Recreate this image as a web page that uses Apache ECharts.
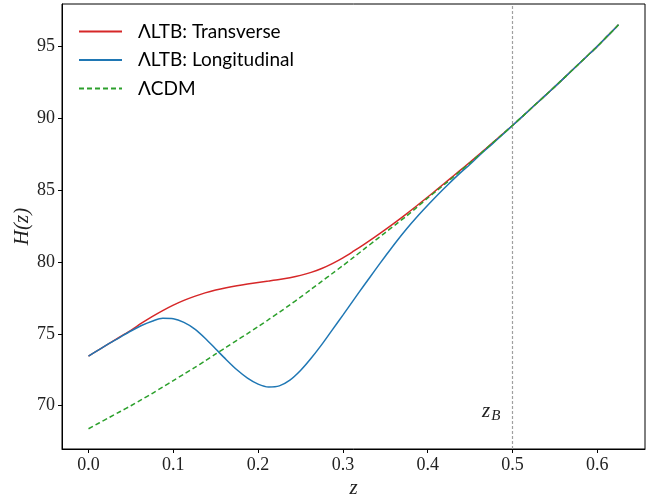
<!DOCTYPE html>
<html>
<head>
<meta charset="utf-8">
<script src="https://cdn.jsdelivr.net/npm/echarts@6/dist/echarts.min.js"></script>
<style>
  html, body { margin: 0; padding: 0; background: #fff; }
  #chart { width: 659px; height: 504px; }
</style>
</head>
<body>
<div id="chart"></div>
<script>
// redshift samples
const zValues = [0, 0.0125, 0.025, 0.0375, 0.05, 0.0625, 0.075, 0.0875, 0.1, 0.1125, 0.125, 0.1375,
  0.15, 0.1625, 0.175, 0.1875, 0.2, 0.2125, 0.225, 0.2375, 0.25, 0.2625, 0.275, 0.2875,
  0.3, 0.3125, 0.325, 0.3375, 0.35, 0.3625, 0.375, 0.3875, 0.4, 0.4125, 0.425, 0.4375,
  0.45, 0.4625, 0.475, 0.4875, 0.5, 0.5125, 0.525, 0.5375, 0.55, 0.5625, 0.575, 0.5875,
  0.6, 0.6125, 0.625];

// H(z)
const transverse = [73.45, 73.9, 74.35, 74.8, 75.25, 75.74, 76.2, 76.62, 77.0, 77.33, 77.61, 77.85,
  78.05, 78.215, 78.355, 78.475, 78.58, 78.68, 78.785, 78.91, 79.07, 79.28, 79.55, 79.89,
  80.29, 80.75, 81.23, 81.73, 82.25, 82.79, 83.35, 83.93, 84.52, 85.12, 85.73, 86.34,
  86.95, 87.58, 88.22, 88.86, 89.5, 90.17, 90.85, 91.52, 92.2, 92.9, 93.6, 94.3,
  95.0, 95.75, 96.5];
const longitudinal = [73.45, 73.9, 74.35, 74.78, 75.2, 75.58, 75.88, 76.08, 76.05, 75.8, 75.35, 74.7,
  73.95, 73.2, 72.5, 71.92, 71.5, 71.3, 71.38, 71.78, 72.45, 73.3, 74.25, 75.28,
  76.3, 77.35, 78.38, 79.4, 80.4, 81.38, 82.3, 83.15, 83.95, 84.72, 85.45, 86.15,
  86.8, 87.5, 88.15, 88.82, 89.5, 90.17, 90.85, 91.52, 92.2, 92.9, 93.6, 94.3,
  95.0, 95.75, 96.5];
const lcdm = [68.4, 68.8, 69.2, 69.6, 70.0, 70.42, 70.85, 71.3, 71.75, 72.2, 72.65, 73.12,
  73.6, 74.07, 74.55, 75.02, 75.5, 76.0, 76.5, 77.02, 77.55, 78.1, 78.65, 79.2,
  79.75, 80.32, 80.9, 81.47, 82.05, 82.62, 83.2, 83.82, 84.45, 85.05, 85.65, 86.28,
  86.9, 87.55, 88.2, 88.85, 89.5, 90.17, 90.85, 91.52, 92.2, 92.9, 93.6, 94.3,
  95.0, 95.75, 96.5];

const xTicks = [0, 0.1, 0.2, 0.3, 0.4, 0.5, 0.6];
const yTicks = [70, 75, 80, 85, 90, 95];
const zB = 0.5;

const pairs = (ys) => zValues.map((z, i) => [z, ys[i]]);

const chart = echarts.init(document.getElementById('chart'));

const tickFont = { fontFamily: 'Liberation Serif', fontSize: 18, color: '#222' };

chart.setOption({
  animation: false,
  backgroundColor: '#fff',
  grid: {
    left: 62, right: 14, top: 4, bottom: 48,
    show: true, borderColor: '#000', borderWidth: 1, backgroundColor: 'transparent'
  },
  legend: {
    orient: 'vertical',
    left: 73, top: 17,
    itemWidth: 43, itemHeight: 14, itemGap: 9.5,
    itemStyle: { opacity: 0 },
    textStyle: { fontFamily: 'Lato', fontSize: 19, color: '#000', padding: [0, 0, 0, 11] },
    data: ['ΛLTB: Transverse', 'ΛLTB: Longitudinal', 'ΛCDM']
  },
  xAxis: {
    type: 'value',
    min: -0.03125, max: 0.65625,
    name: 'z', nameLocation: 'middle', nameGap: 29, nameMoveOverlap: false,
    nameTextStyle: { fontFamily: 'Liberation Serif', fontStyle: 'italic', fontSize: 21, color: '#222' },
    axisLine: { show: true, onZero: false, lineStyle: { color: '#000', width: 1 } },
    axisTick: { show: true, length: 4, lineStyle: { color: '#000' }, customValues: xTicks },
    axisLabel: Object.assign({ margin: 7, customValues: xTicks, formatter: v => v.toFixed(1) }, tickFont),
    splitLine: { show: false }
  },
  yAxis: {
    type: 'value',
    min: 66.99, max: 97.95,
    name: 'H(z)', nameLocation: 'middle', nameGap: 29, nameRotate: 90, nameMoveOverlap: false,
    nameTextStyle: { fontFamily: 'Liberation Serif', fontStyle: 'italic', fontSize: 21, color: '#222' },
    axisLine: { show: true, onZero: false, lineStyle: { color: '#000', width: 1 } },
    axisTick: { show: true, length: 4, lineStyle: { color: '#000' }, customValues: yTicks },
    axisLabel: Object.assign({ margin: 7, customValues: yTicks }, tickFont),
    splitLine: { show: false }
  },
  series: [
    {
      name: 'ΛLTB: Transverse', type: 'line', data: pairs(transverse),
      smooth: 0.3, symbol: 'none', color: '#d62728',
      lineStyle: { width: 1.5, color: '#d62728' }, z: 3
    },
    {
      name: 'ΛLTB: Longitudinal', type: 'line', data: pairs(longitudinal),
      smooth: 0.3, symbol: 'none', color: '#1f77b4',
      lineStyle: { width: 1.5, color: '#1f77b4' }, z: 4,
      markLine: {
        silent: true, symbol: 'none', label: { show: false },
        lineStyle: { color: '#a0a0a0', type: [3, 2], width: 1.2 },
        data: [{ xAxis: zB }]
      }
    },
    {
      name: 'ΛCDM', type: 'line', data: pairs(lcdm),
      smooth: 0.3, symbol: 'none', color: '#2ca02c',
      lineStyle: { width: 1.5, color: '#2ca02c', type: [5, 3] }, z: 5
    }
  ],
  graphic: [{
    type: 'text', left: 482, top: 401,
    style: {
      text: '{z|z}{b|B}',
      rich: {
        z: { fontFamily: 'Liberation Serif', fontStyle: 'italic', fontSize: 21, fill: '#222' },
        b: { fontFamily: 'Liberation Serif', fontStyle: 'italic', fontSize: 15, fill: '#222', padding: [10, 0, 0, 1] }
      }
    }
  }]
});
</script>
</body>
</html>
